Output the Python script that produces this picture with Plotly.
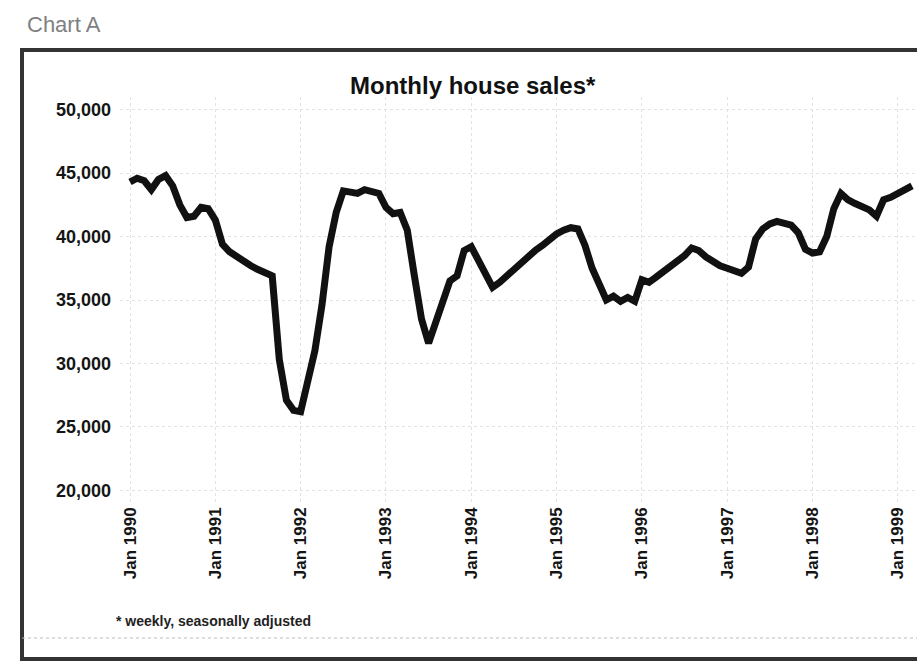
import plotly.graph_objects as go

# Monthly house sales (seasonally adjusted)
year_labels = ["Jan 1990", "Jan 1991", "Jan 1992", "Jan 1993", "Jan 1994",
               "Jan 1995", "Jan 1996", "Jan 1997", "Jan 1998", "Jan 1999"]
tick_months = [0, 12, 24, 36, 48, 60, 72, 84, 96, 108]

sales = [
    44300, 44600, 44400, 43700, 44500, 44800, 44000, 42500, 41500, 41600, 42300, 42200,
    41300, 39400, 38800, 38400, 38000, 37700, 37400, 37100, 36900, 30300, 27100, 26300,
    26200, 28600, 31000, 34600, 39200, 41900, 43600, 43500, 43400, 43700, 43600, 43400,
    42300, 41800, 41900, 40500, 36900, 33500, 31600, 33300, 35000, 36500, 36900, 38900,
    39200, 38100, 36800, 36000, 36400, 36900, 37400, 37900, 38500, 38900, 39300, 39800,
    40200, 40500, 40700, 40600, 39300, 37500, 36200, 35000, 35300, 34900, 35200, 34900,
    36600, 36400, 36800, 37200, 37600, 38000, 38500, 39100, 38900, 38400, 38000, 37700,
    37500, 37300, 37100, 37600, 39800, 40600, 41000, 41200, 41100, 40900, 40300, 39000,
    38700, 38800, 40000, 42200, 43400, 42900, 42600, 42400, 42100, 41600, 42900, 43100,
    43400, 43700, 44000,
]
months = list(range(len(sales)))

y_ticks = [20000, 25000, 30000, 35000, 40000, 45000, 50000]

W, H = 917, 666
ML, MR, MT, MB = 120, 0, 97, 163
PW, PH = W - ML - MR, H - MT - MB


def px_x(p):
    return (p - ML) / PW


def px_y(p):
    return (H - MB - p) / PH


fig = go.Figure()
fig.add_trace(go.Scatter(
    x=months, y=sales, mode="lines",
    line=dict(color="#111111", width=7),
    showlegend=False, hoverinfo="skip",
))

fig.update_layout(
    width=W, height=H,
    margin=dict(l=ML, r=MR, t=MT, b=MB),
    paper_bgcolor="white", plot_bgcolor="white",
    font=dict(family="Liberation Sans, Arial, sans-serif", color="#111111"),
    xaxis=dict(
        range=[-1.41, 110.7], tickmode="array", tickvals=tick_months,
        ticktext=year_labels, tickangle=-90,
        tickfont=dict(size=17, color="#151515", family="Liberation Sans, Arial, sans-serif", weight="bold"),
        showgrid=True, gridcolor="#e2e2e2", griddash="dot", gridwidth=1,
        zeroline=False, showline=False, ticks="",
    ),
    yaxis=dict(
        range=[19000, 51000], tickmode="array", tickvals=y_ticks,
        tickformat=",", tickfont=dict(size=18, color="#151515", family="Liberation Sans, Arial, sans-serif", weight="bold"),
        showgrid=True, gridcolor="#e2e2e2", griddash="dot", gridwidth=1,
        zeroline=False, showline=False, ticks="", ticklabelstandoff=8,
    ),
    annotations=[
        dict(text="Chart A", xref="paper", yref="paper", x=px_x(25), y=px_y(10),
             xanchor="left", yanchor="top", showarrow=False,
             font=dict(size=22, color="#808080")),
        dict(text="<b>Monthly house sales*</b>", xref="paper", yref="paper",
             x=px_x(473), y=px_y(70), xanchor="center", yanchor="top", showarrow=False,
             font=dict(size=24, color="#111111")),
        dict(text="<b>* weekly, seasonally adjusted</b>", xref="paper", yref="paper",
             x=px_x(114), y=px_y(611), xanchor="left", yanchor="top", showarrow=False,
             font=dict(size=14, color="#222222")),
    ],
    shapes=[
        dict(type="rect", xref="paper", yref="paper",
             x0=px_x(22), x1=px_x(930), y0=px_y(659), y1=px_y(50),
             line=dict(color="#333333", width=4), fillcolor="rgba(0,0,0,0)", layer="above"),
        dict(type="line", xref="paper", yref="paper",
             x0=px_x(22), x1=px_x(917), y0=px_y(638), y1=px_y(638),
             line=dict(color="#bbbbbb", width=1, dash="dot")),
    ],
)

fig.write_html("out.html")
